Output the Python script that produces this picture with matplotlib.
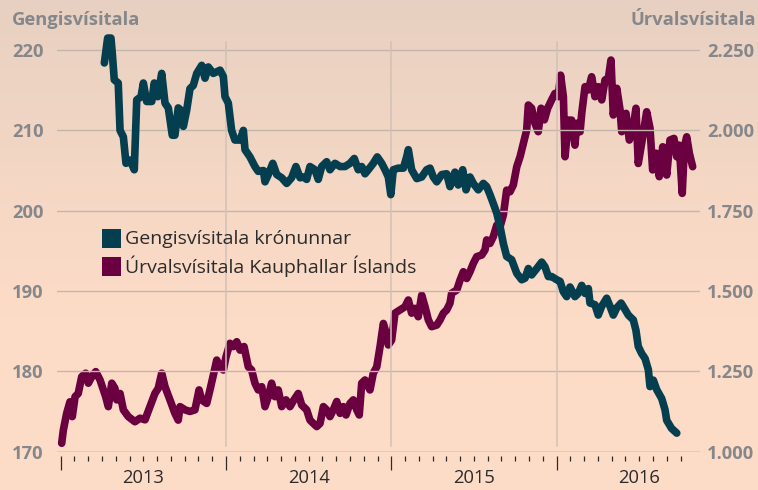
import numpy as np
import matplotlib
matplotlib.use("Agg")
import matplotlib.pyplot as plt
from matplotlib.patches import Rectangle
import matplotlib.transforms as mtransforms

# ---------------- data (time as decimal year) ----------------
gengi_t = [2013.264, 2013.284, 2013.304, 2013.312, 2013.324, 2013.348, 2013.359, 2013.379, 2013.395,
           2013.419, 2013.445, 2013.460, 2013.486, 2013.500, 2013.520, 2013.551, 2013.566, 2013.587,
           2013.611, 2013.631, 2013.651, 2013.675, 2013.691, 2013.711, 2013.728, 2013.742, 2013.762,
           2013.782, 2013.802, 2013.823, 2013.853, 2013.873, 2013.893, 2013.923, 2013.953, 2013.964,
           2013.984, 2013.994, 2014.014, 2014.034, 2014.054, 2014.085, 2014.105, 2014.115, 2014.145,
           2014.175, 2014.195, 2014.226, 2014.236, 2014.256, 2014.283, 2014.307, 2014.337, 2014.367,
           2014.397, 2014.423, 2014.448, 2014.468, 2014.488, 2014.508, 2014.538, 2014.558, 2014.579,
           2014.609, 2014.629, 2014.659, 2014.690, 2014.720, 2014.750, 2014.776, 2014.800, 2014.821,
           2014.841, 2014.861, 2014.891, 2014.915, 2014.942, 2014.962, 2014.982, 2014.997, 2015.012,
           2015.042, 2015.073, 2015.093, 2015.103, 2015.123, 2015.154, 2015.184, 2015.214, 2015.234,
           2015.254, 2015.275, 2015.305, 2015.335, 2015.355, 2015.385, 2015.405, 2015.432, 2015.452,
           2015.476, 2015.496, 2015.526, 2015.557, 2015.577, 2015.597, 2015.617, 2015.638, 2015.658,
           2015.678, 2015.698, 2015.728, 2015.759, 2015.789, 2015.809, 2015.829, 2015.849, 2015.880,
           2015.910, 2015.930, 2015.950, 2015.970, 2016.001, 2016.021, 2016.041, 2016.061, 2016.081,
           2016.111, 2016.131, 2016.152, 2016.172, 2016.192, 2016.202, 2016.232, 2016.252, 2016.273,
           2016.303, 2016.323, 2016.343, 2016.364, 2016.390, 2016.414, 2016.434, 2016.464, 2016.480,
           2016.494, 2016.515, 2016.535, 2016.555, 2016.565, 2016.585, 2016.606, 2016.636, 2016.656,
           2016.666, 2016.695, 2016.727]
gengi_v = [218.4, 221.5, 221.5, 219.6, 216.3, 215.9, 210.0, 209.2, 205.9,
           206.3, 205.1, 213.8, 214.2, 215.9, 213.6, 213.6, 215.9, 214.2,
           217.1, 213.4, 212.8, 209.4, 209.4, 212.8, 212.5, 210.5, 212.5,
           215.2, 215.6, 217.1, 218.1, 216.5, 217.9, 217.1, 217.4, 217.5,
           216.7, 214.2, 213.4, 210.0, 208.8, 208.8, 210.0, 207.6, 206.7,
           205.5, 204.9, 205.0, 203.6, 204.5, 205.9, 204.5, 204.1, 203.4,
           204.1, 205.5, 204.1, 204.2, 203.9, 205.5, 205.1, 203.9, 205.5,
           206.1, 205.1, 205.9, 205.5, 205.5, 205.9, 206.5, 205.1, 205.5,
           204.6, 205.1, 205.9, 206.7, 205.9, 205.1, 204.2, 202.0, 205.1,
           205.3, 205.3, 206.7, 207.6, 205.1, 204.0, 204.2, 205.1, 205.3,
           204.2, 203.6, 204.5, 204.6, 203.0, 204.8, 203.2, 205.1, 202.6,
           204.2, 203.4, 202.6, 203.4, 203.0, 202.0, 200.9, 199.7, 198.0,
           195.9, 194.3, 193.9, 192.2, 191.4, 191.6, 192.8, 192.0, 192.8,
           193.6, 193.0, 191.8, 191.8, 191.4, 191.2, 189.9, 189.3, 190.5,
           189.3, 189.7, 190.7, 189.7, 190.3, 188.5, 188.3, 187.0, 188.1,
           189.1, 188.1, 187.0, 187.9, 188.5, 187.7, 187.0, 186.4, 185.1,
           183.1, 182.2, 181.6, 180.2, 178.1, 178.9, 177.7, 176.6, 175.2,
           173.9, 172.9, 172.3]

urval_t = [2013.006, 2013.016, 2013.036, 2013.056, 2013.070, 2013.087, 2013.106, 2013.127, 2013.151,
           2013.167, 2013.188, 2013.212, 2013.238, 2013.258, 2013.272, 2013.288, 2013.309, 2013.328,
           2013.339, 2013.359, 2013.379, 2013.409, 2013.449, 2013.480, 2013.510, 2013.540, 2013.570,
           2013.590, 2013.611, 2013.631, 2013.661, 2013.691, 2013.711, 2013.722, 2013.752, 2013.782,
           2013.812, 2013.837, 2013.853, 2013.883, 2013.903, 2013.923, 2013.944, 2013.964, 2013.984,
           2014.000, 2014.024, 2014.044, 2014.065, 2014.085, 2014.109, 2014.135, 2014.155, 2014.175,
           2014.195, 2014.216, 2014.236, 2014.256, 2014.276, 2014.296, 2014.316, 2014.337, 2014.363,
           2014.387, 2014.411, 2014.437, 2014.458, 2014.488, 2014.508, 2014.528, 2014.549, 2014.569,
           2014.589, 2014.609, 2014.629, 2014.649, 2014.670, 2014.690, 2014.710, 2014.726, 2014.750,
           2014.770, 2014.791, 2014.806, 2014.821, 2014.841, 2014.871, 2014.891, 2014.912, 2014.932,
           2014.952, 2014.968, 2014.982, 2015.002, 2015.022, 2015.053, 2015.083, 2015.103, 2015.123,
           2015.143, 2015.163, 2015.184, 2015.204, 2015.224, 2015.244, 2015.275, 2015.295, 2015.315,
           2015.335, 2015.355, 2015.365, 2015.396, 2015.416, 2015.436, 2015.456, 2015.476, 2015.496,
           2015.517, 2015.547, 2015.567, 2015.577, 2015.597, 2015.617, 2015.638, 2015.658, 2015.678,
           2015.698, 2015.718, 2015.738, 2015.759, 2015.779, 2015.799, 2015.819, 2015.829, 2015.849,
           2015.869, 2015.889, 2015.906, 2015.926, 2015.946, 2015.970, 2015.990, 2016.010, 2016.024,
           2016.041, 2016.051, 2016.071, 2016.091, 2016.111, 2016.122, 2016.142, 2016.152, 2016.172,
           2016.192, 2016.212, 2016.232, 2016.252, 2016.273, 2016.293, 2016.313, 2016.329, 2016.343,
           2016.364, 2016.384, 2016.394, 2016.420, 2016.440, 2016.460, 2016.480, 2016.494, 2016.521,
           2016.545, 2016.565, 2016.581, 2016.601, 2016.621, 2016.642, 2016.666, 2016.686, 2016.710,
           2016.727, 2016.742, 2016.760, 2016.773, 2016.787, 2016.803, 2016.823]
urval_v = [1026, 1067, 1119, 1155, 1109, 1171, 1181, 1233, 1244,
           1213, 1233, 1249, 1223, 1192, 1171, 1140, 1213, 1197,
           1161, 1181, 1130, 1109, 1093, 1104, 1099, 1140, 1181,
           1197, 1244, 1202, 1161, 1119, 1098, 1140, 1130, 1125,
           1130, 1192, 1161, 1150, 1192, 1238, 1285, 1264, 1254,
           1295, 1337, 1327, 1342, 1316, 1327, 1264, 1254, 1213,
           1192, 1202, 1140, 1171, 1213, 1171, 1192, 1140, 1161,
           1140, 1161, 1181, 1145, 1130, 1098, 1088, 1078, 1088,
           1140, 1130, 1109, 1130, 1156, 1119, 1140, 1114, 1150,
           1161, 1130, 1114, 1213, 1223, 1192, 1244, 1264, 1327,
           1399, 1370, 1332, 1347, 1431, 1441, 1451, 1472, 1431,
           1446, 1420, 1487, 1451, 1410, 1389, 1394, 1410, 1431,
           1441, 1462, 1493, 1503, 1534, 1560, 1539, 1560, 1586,
           1607, 1612, 1628, 1659, 1648, 1669, 1705, 1700, 1737,
           1814, 1809, 1830, 1887, 1918, 1960, 2001, 2079, 2069,
           2022, 1996, 2069, 2033, 2069, 2095, 2115, 2105, 2172,
           2105, 1918, 2032, 2032, 1954, 2022, 1996, 2053, 2136,
           2126, 2167, 2105, 2136, 2095, 2157, 2162, 2219, 2048,
           2131, 2063, 1996, 2053, 1970, 1996, 2069, 1897, 1980,
           2058, 2007, 1877, 1929, 1856, 1949, 1861, 1970, 1975,
           1918, 1954, 1804, 1949, 1980, 1929, 1887]

years = [2013, 2014, 2015, 2016]
left_ticks = [170, 180, 190, 200, 210, 220]
right_ticks = [1000, 1250, 1500, 1750, 2000, 2250]
right_labels = ["1.000", "1.250", "1.500", "1.750", "2.000", "2.250"]
series_names = ["Gengisvísitala krónunnar", "Úrvalsvísitala Kauphallar Íslands"]
left_title = "Gengisvísitala"
right_title = "Úrvalsvísitala"

TEAL = "#053e4f"
MAROON = "#6a003f"
GRAY = "#85878b"
DARK = "#2b2b2b"
FONT = ["Open Sans", "DejaVu Sans"]
plt.rcParams["font.family"] = FONT

W, H = 758, 490
fig = plt.figure(figsize=(W / 100, H / 100), dpi=100)

# background gradient
bg = fig.add_axes([0, 0, 1, 1], zorder=0)
top = np.array([231, 208, 193]) / 255
bot = np.array([253, 220, 199]) / 255
yy = np.linspace(0, 1, 256)
frac = np.clip(yy / 0.65, 0, 1) ** 0.9
grad = top[None, :] * (1 - frac[:, None]) + bot[None, :] * frac[:, None]
bg.imshow(grad[:, None, :], aspect="auto", extent=[0, 1, 1, 0])
bg.set_axis_off()

def px(x, y):
    return x / W, 1 - y / H

# main axes
x0, x1, ytop, ybot = 57, 700, 38, 451.6
ax = fig.add_axes([x0 / W, 1 - ybot / H, (x1 - x0) / W, (ybot - ytop) / H], zorder=2)
ax.patch.set_alpha(0)
ppu = 8.03
ylo, yhi = 170, 170 + (ybot - ytop) / ppu
ax.set_ylim(ylo, yhi)
xl = 2013 + (x0 - 60.7) / 165.3
xr = 2013 + (x1 - 60.7) / 165.3
ax.set_xlim(xl, xr)

ax2 = ax.twinx()
ax2.set_ylim(1000 + (ylo - 170) * 25, 1000 + (yhi - 170) * 25)

for a in (ax, ax2):
    for s in a.spines.values():
        s.set_visible(False)

# gridlines
for v in left_ticks[1:]:
    ax.axhline(v, color="#c3b6ad", lw=1.0, zorder=1)
ax.axhline(170, color="#e6cab7", lw=2.2, zorder=1)
for yv in years[1:]:
    ax.plot([yv, yv], [170.7, 221.05], color="#d2c1b6", lw=1.1, zorder=1)

# series
ax2.plot(urval_t, urval_v, color=MAROON, lw=5.5, solid_capstyle="round",
         solid_joinstyle="round", zorder=3, clip_on=False)
ax.plot(gengi_t, gengi_v, color=TEAL, lw=5.5, solid_capstyle="round",
        solid_joinstyle="round", zorder=4, clip_on=False)
ax.set_zorder(3)
ax2.set_zorder(2)

# x ticks
ax.spines["bottom"].set_position(("outward", 3.2))
ax.set_xticks(years)
months = [y + m / 12 for y in years for m in range(1, 12) if y + m / 12 <= 2016.8]
ax.set_xticks(months, minor=True)
ax.tick_params(axis="x", which="major", length=10, width=0.9, color=DARK, labelbottom=False)
ax.tick_params(axis="x", which="minor", length=3.8, width=0.9, color=DARK)
trans = mtransforms.blended_transform_factory(ax.transData, fig.transFigure)
for y in years:
    ax.text(y + 0.5, 1 - 478 / H, str(y), transform=trans, ha="center", va="center",
            fontsize=13.2, color=DARK)

# left y labels
ax.set_yticks(left_ticks)
ax.set_yticklabels([str(v) for v in left_ticks])
ax.tick_params(axis="y", length=0, pad=(x0 - 12) * 0.72, labelsize=13.2, labelcolor=GRAY)
for lab in ax.get_yticklabels():
    lab.set_horizontalalignment("left")
    lab.set_fontweight("bold")

# right y labels
ax2.set_yticks(right_ticks)
ax2.set_yticklabels(right_labels)
ax2.tick_params(axis="y", length=0, pad=(707 - x1) * 0.72, labelsize=13.2, labelcolor=GRAY)
for lab in ax2.get_yticklabels():
    lab.set_fontweight("bold")

# titles
fig.text(*px(12, 20), left_title, ha="left", va="center", fontsize=13.2,
         fontweight="bold", color=GRAY)
fig.text(*px(756, 20), right_title, ha="right", va="center", fontsize=13.2,
         fontweight="bold", color=GRAY)

# legend
for i, (name, col) in enumerate(zip(series_names, [TEAL, MAROON])):
    yc = 239 + i * 27.7
    fig.patches.append(Rectangle(px(102, yc + 9.5), 19 / W, 19 / H, transform=fig.transFigure,
                                 facecolor=col, edgecolor="none", zorder=5))
    fig.text(*px(125, yc), name, ha="left", va="center", fontsize=14, color=DARK, zorder=5)

fig.savefig("out.png", dpi=100)
